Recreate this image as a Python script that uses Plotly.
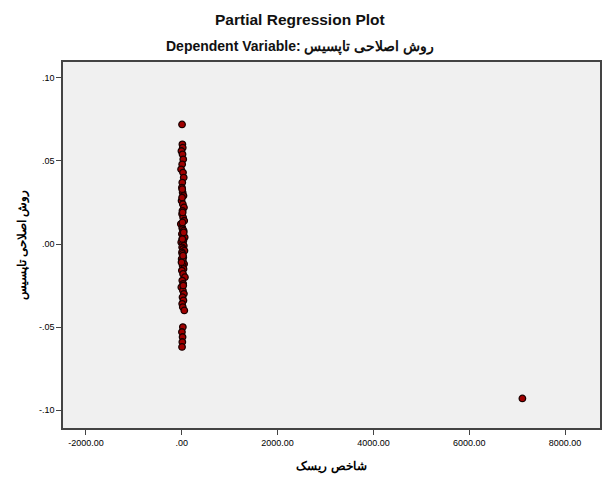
import plotly.graph_objects as go

# Cluster of cases near zero on the risk index, plus one outlier
risk_index = [
    5, 12, 20, -8, 15, 30, 8, -15, 25, 40, 10, 3, 18, 35, -5, 22, 45, 14,
    6, 28, 50, -20, 9, 16, 38, 2, 24, 60, 11, 33, -12, 19, 42, 7, 27, 55,
    4, 13, 31, -3, 21, 48, 17, 36, 1, 26, 65, 10, 29, -10, 23, 44, 15, 34,
    8, 20, 52, 12, 39, -6, 18, 30, 6, 25, 14, 9, 22, 3, 16, 11, 5,
    7110
]
topsis_resid = [
    0.072, 0.060, 0.058, 0.056, 0.054, 0.051, 0.048, 0.045, 0.043, 0.040,
    0.037, 0.034, 0.031, 0.029, 0.026, 0.024, 0.022, 0.020, 0.018, 0.016,
    0.014, 0.012, 0.010, 0.009, 0.008, 0.006, 0.005, 0.004, 0.003, 0.002,
    0.001, 0.000, -0.001, -0.002, -0.003, -0.004, -0.005, -0.006, -0.008,
    -0.009, -0.010, -0.012, -0.013, -0.015, -0.016, -0.018, -0.020, -0.022,
    -0.024, -0.026, -0.028, -0.030, -0.032, -0.034, -0.036, -0.038, -0.040,
    0.003, 0.007, -0.011, 0.019, -0.025, 0.028, -0.007, 0.013, 0.033,
    -0.050, -0.053, -0.056, -0.059, -0.062,
    -0.093
]

x_ticks = [-2000, 0, 2000, 4000, 6000, 8000]
x_labels = ["-2000.00", ".00", "2000.00", "4000.00", "6000.00", "8000.00"]
y_ticks = [-0.10, -0.05, 0.0, 0.05, 0.10]
y_labels = ["-.10", "-.05", ".00", ".05", ".10"]

fig = go.Figure()
fig.add_trace(go.Scatter(
    x=risk_index, y=topsis_resid, mode="markers",
    marker=dict(size=6.5, color="#a00000", line=dict(color="#1a0000", width=1.3)),
    showlegend=False,
))

font = "Liberation Sans, Arial, sans-serif"
fig.update_layout(
    width=611, height=484,
    margin=dict(l=63, r=9, t=62, b=56),
    paper_bgcolor="white",
    plot_bgcolor="#f0f0f0",
    font=dict(family=font, size=9, color="black"),
    xaxis=dict(
        range=[-2480, 8730], tickvals=x_ticks, ticktext=x_labels,
        showgrid=False, zeroline=False, showline=True, mirror=True,
        linecolor="#444", linewidth=1.5, ticks="outside", ticklen=5, tickcolor="#444",
        title=dict(text="<b>شاخص ریسک</b>", font=dict(family=font, size=12), standoff=15),
    ),
    yaxis=dict(
        range=[-0.1108, 0.1096], tickvals=y_ticks, ticktext=y_labels,
        showgrid=False, zeroline=False, showline=True, mirror=True,
        linecolor="#444", linewidth=1.5, ticks="outside", ticklen=5, tickcolor="#444",
        title=dict(text="<b>روش اصلاحی تاپسیس</b>", font=dict(family=font, size=11.5), standoff=10),
    ),
    annotations=[
        dict(text="<b>Partial Regression Plot</b>", xref="paper", yref="paper",
             x=0.4416, y=1.115, xanchor="center", yanchor="middle", showarrow=False,
             font=dict(family=font, size=15.5, color="#111")),
        dict(text="<b>Dependent Variable: روش اصلاحی تاپسیس</b>", xref="paper", yref="paper",
             x=0.4416, y=1.041, xanchor="center", yanchor="middle", showarrow=False,
             font=dict(family=font, size=14, color="#111")),
    ],
)

fig.write_html("out.html")
